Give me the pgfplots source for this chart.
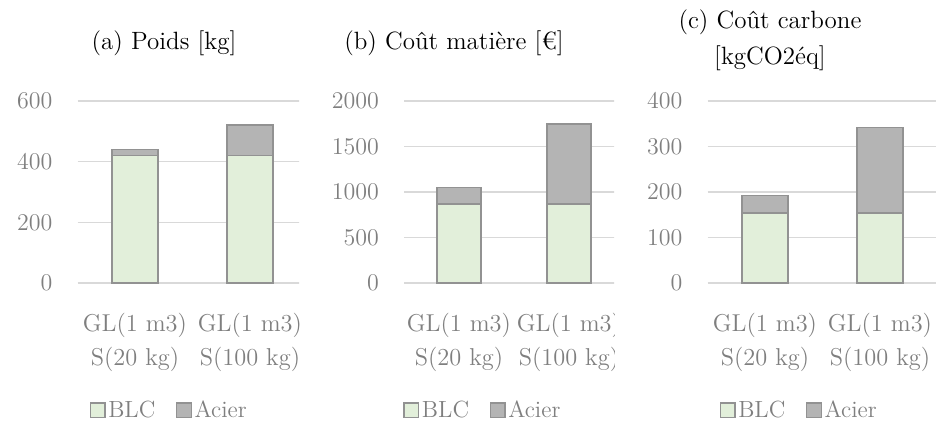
\documentclass[border=0pt]{standalone}
\usepackage{pgfplots}
\pgfplotsset{compat=1.18}
\definecolor{blc}{HTML}{E2EFDA}
\definecolor{acier}{HTML}{B4B4B4}
\definecolor{bord}{HTML}{929292}
\definecolor{gridc}{HTML}{D9D9D9}
\definecolor{txtg}{HTML}{7F7F7F}
\newcommand{\lblfont}{\fontsize{12.2}{17}\selectfont}
\pgfplotsset{
  panel/.style={
    scale only axis,
    height=91pt,
    ybar stacked,
    bar width=0.4,
    xmin=-0.5, xmax=1.5,
    ymin=0,
    xtick={0,1},
    xticklabels={{GL(1 m3)\\S(20 kg)},{GL(1 m3)\\S(100 kg)}},
    xticklabel style={align=center, font=\lblfont, text=txtg, yshift=-11.5pt},
    yticklabel style={font=\lblfont, text=txtg, xshift=-9pt},
    /pgf/number format/1000 sep={},
    axis line style={draw=none},
    major tick length=0pt,
    ymajorgrids,
    grid style={draw=gridc, line width=0.7pt},
    legend columns=2,
    legend style={draw=none, fill=none, font=\fontsize{11.7}{13}\selectfont, text=txtg,
      nodes={inner sep=1.3pt},
      /tikz/every even column/.append style={column sep=9pt}},
    legend image code/.code={\draw[#1, draw=bord, line width=0.6pt] (0pt,-3.7pt) rectangle (7.4pt,3.7pt);},
    every axis plot/.append style={draw=bord, line width=0.8pt},
  }
}
\begin{document}
\begin{tikzpicture}
\useasboundingbox (0,0) rectangle (468pt,210pt);
% ---- panel a
\begin{scope}
\clip (0,0) rectangle (149.5pt,210pt);
\begin{axis}[panel, at={(38.75pt,68.5pt)}, anchor=south west, width=115pt,
  ymax=600, ytick={0,200,400,600},
  legend style={at={(0.40,-0.70)}, anchor=center}]
\addplot[fill=blc] coordinates {(0,420) (1,420)};
\addplot[fill=acier] coordinates {(0,20) (1,100)};
\legend{BLC,Acier}
\end{axis}
\end{scope}
% ---- panel b
\begin{scope}
\clip (149.5pt,0) rectangle (307pt,210pt);
\begin{axis}[panel, at={(202pt,68.5pt)}, anchor=south west, width=110pt,
  ymax=2000, ytick={0,500,1000,1500,2000},
  legend style={at={(0.36,-0.70)}, anchor=center}]
\addplot[fill=blc] coordinates {(0,870) (1,870)};
\addplot[fill=acier] coordinates {(0,178) (1,878)};
\legend{BLC,Acier}
\end{axis}
\end{scope}
% ---- panel c
\begin{scope}
\clip (307pt,0) rectangle (468pt,210pt);
\begin{axis}[panel, at={(353.75pt,68.5pt)}, anchor=south west, width=115pt,
  ymax=400, ytick={0,100,200,300,400},
  legend style={at={(0.40,-0.70)}, anchor=center}]
\addplot[fill=blc] coordinates {(0,154) (1,154)};
\addplot[fill=acier] coordinates {(0,38) (1,188)};
\legend{BLC,Acier}
\end{axis}
\end{scope}
% ---- titles
\node[font=\fontsize{12.5}{14}\selectfont] at (82pt,188.5pt) {(a) Poids [kg]};
\node[font=\fontsize{12.5}{14}\selectfont] at (227pt,188.5pt) {(b) Coût matière [€]};
\node[font=\fontsize{12.5}{14}\selectfont] at (385pt,199pt) {(c) Coût carbone};
\node[font=\fontsize{12.5}{14}\selectfont] at (385pt,181pt) {[kgCO2éq]};
\end{tikzpicture}
\end{document}
